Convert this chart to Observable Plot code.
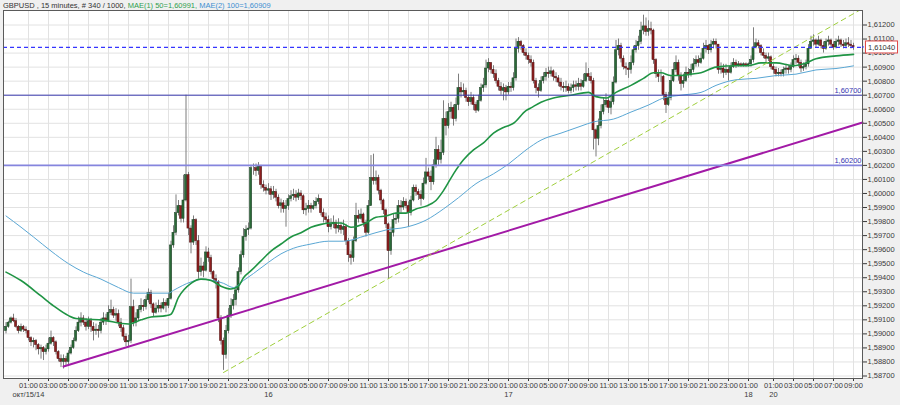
<!DOCTYPE html>
<html><head><meta charset="utf-8">
<script src="https://cdn.jsdelivr.net/npm/d3@7"></script>
<script src="https://cdn.jsdelivr.net/npm/@observablehq/plot@0.6"></script>
<style>
html,body{margin:0;padding:0;background:#f0f0f0;}
#chart svg{display:block;}
</style></head><body><div id="chart"></div>
<script>
// ---- DATA (prices in pips above 1.5800) ----
const basePrice = 1.58;
const firstOpenPips = 102;
const closePips = [
105,108,111,109,105,102,105,103,102,97,
94,95,92,89,90,87,89,93,97,94,
87,82,80,82,80,86,90,95,102,108,
111,108,105,109,105,102,103,102,108,111,
109,115,117,113,114,108,104,98,94,95,
119,108,111,117,120,119,124,129,121,115,
118,120,118,122,120,125,163,172,186,191,
182,195,213,175,165,181,166,144,148,145,
158,154,144,139,137,111,95,85,102,113,
120,124,131,144,156,169,174,175,218,218,
216,219,206,204,202,203,199,201,197,191,
193,189,191,196,198,199,197,200,198,188,
189,191,189,191,194,196,186,183,181,176,
178,179,175,177,174,176,166,156,154,166,
184,182,185,179,172,191,211,209,211,202,
195,188,178,159,172,181,182,191,190,194,
191,186,195,204,201,199,196,207,215,212,
208,220,231,224,229,253,248,258,261,253,
263,275,272,273,268,265,268,263,259,266,
275,277,289,293,288,285,280,276,273,275,
272,276,275,282,303,308,305,300,298,295,
293,280,275,273,280,283,286,285,287,283,
282,279,276,275,276,273,275,277,276,278,
276,280,285,283,280,245,239,248,258,263,
266,261,265,279,302,305,296,290,289,288,
293,302,305,308,316,319,315,317,316,295,
285,283,283,270,263,268,280,288,293,284,
278,280,286,285,288,292,295,293,296,303,
305,302,306,308,306,288,289,286,288,286,
290,293,291,292,291,292,291,292,295,304,
307,305,300,298,296,297,290,288,285,286,
285,288,289,288,290,295,296,293,289,290,
292,303,308,309,306,309,305,303,308,309,
306,304,308,309,306,305,307,306,305,304];
const highPips = [
108,109,112,114,111,106,107,106,105,102,
98,97,96,93,92,91,92,97,102,98,
95,88,85,85,84,88,92,97,105,112,
115,113,111,112,111,108,107,106,111,115,
114,120,124,119,118,117,111,106,100,99,
139,124,115,120,125,124,127,132,131,122,
122,124,122,125,124,129,166,177,199,195,
191,213,270,215,177,184,182,170,154,151,
162,161,156,145,142,138,113,97,106,118,
125,128,134,147,159,175,177,179,220,221,
221,222,220,209,206,207,205,205,203,199,
196,195,195,199,202,203,202,203,202,199,
193,195,193,195,197,199,196,189,186,184,
182,184,181,182,179,181,178,168,159,169,
193,188,189,186,181,195,227,228,216,213,
203,196,189,179,176,185,186,195,195,197,
196,194,198,206,206,203,202,211,225,218,
216,224,240,234,238,266,258,264,265,263,
268,285,279,278,275,270,272,270,265,270,
278,282,295,296,293,291,288,282,279,278,
277,279,279,286,310,311,309,306,303,300,
298,295,282,278,283,286,289,290,290,288,
286,284,282,279,280,278,278,280,280,282,
281,285,293,289,286,282,246,253,263,268,
271,268,269,283,309,310,307,298,293,293,
298,305,309,312,322,327,325,323,322,317,
296,288,288,284,272,272,284,293,298,295,
286,285,290,289,292,296,298,298,300,307,
309,306,309,310,310,306,293,292,292,290,
293,296,295,294,293,293,293,293,298,318,
310,309,306,303,300,300,298,292,290,289,
288,290,292,291,293,298,299,298,295,293,
295,306,312,313,310,312,310,308,310,312,
310,308,310,312,310,309,310,311,309,307];
const lowPips = [
100,104,107,108,104,100,101,101,100,95,
91,90,88,85,82,81,85,87,92,91,
85,80,76,75,77,78,85,89,94,101,
105,106,102,103,101,95,99,97,100,106,
106,108,113,111,109,105,101,95,91,90,
93,105,105,109,115,116,117,122,118,112,
114,115,115,117,115,118,124,161,170,184,
179,179,194,170,157,163,163,139,141,140,
144,151,142,137,132,108,92,74,82,100,
111,117,120,129,142,154,166,170,174,213,
212,213,203,201,199,199,195,196,194,189,
186,186,176,188,194,195,194,195,195,185,
184,186,186,188,189,192,184,179,178,172,
174,175,171,172,171,170,163,151,149,151,
165,179,181,176,169,171,191,206,206,199,
192,185,175,139,156,169,178,179,186,188,
189,176,184,194,198,195,191,195,206,209,
202,206,218,220,221,227,241,246,253,248,
251,259,268,269,265,262,263,259,257,258,
265,272,275,286,285,282,278,273,270,266,
266,270,272,273,280,300,302,298,295,292,
290,278,271,268,272,278,280,282,283,280,
279,276,273,272,272,271,271,272,273,273,
273,275,279,280,278,231,226,234,246,256,
261,257,256,263,278,298,293,288,284,282,
285,291,300,302,306,313,312,312,313,292,
282,279,279,266,257,262,266,279,286,280,
273,275,279,282,283,286,290,290,292,295,
300,299,300,303,303,285,285,282,284,280,
285,289,289,290,290,290,290,290,290,293,
303,303,298,296,293,294,288,285,283,283,
283,283,285,285,286,289,292,290,286,287,
288,290,303,305,304,305,303,300,302,305,
304,302,303,305,304,303,303,304,303,302];

// moving averages (bar index, pips)
const ma50Bars = [0,6,14,19,25,28,38,49,54,58,64,66,69,74,78,82,86,90,93,95,98,102,106,110,114,118,122,126,130,134,138,144,148,152,156,160,164,168,172,175,179,183,187,191,195,199,203,208,210,214,219,226,233,236,240,244,250,255,259,262,266,270,274,278,284,292,297,302,308,315,320,324,332,339];
const ma50Pips = [144,138,127,120,113,111,110,107,110,112,113,114,126,136,139,138,134,132,134,140,145,152,159,164,169,172,176,178,179,179,176,179,183,184,186,186,189,191,195,202,214,224,231,236,243,247,250,259,261,265,268,270,272,269,268,272,277,282,286,286,284,284,285,286,290,291,291,293,293,291,293,296,298,299.1];
const ma100Bars = [0,6,11,18,25,31,38,45,51,58,65,67,74,79,83,87,91,95,99,105,110,115,122,129,135,144,152,160,168,175,181,188,195,201,208,214,222,230,235,243,250,257,263,270,278,284,292,300,308,316,324,332,339];
const ma100Pips = [184,176,169,159,150,144,139,133,129,129,129,131,137,139,138,136,133,138,143,151,157,161,164,166,166,170,174,176,181,189,197,207,214,221,231,238,243,248,251,253,258,263,268,270,272,277,281,282,284,285,288,289,290.9];

// time axis
const hours12 = ["01:00","03:00","05:00","07:00","09:00","11:00","13:00","15:00","17:00","19:00","21:00","23:00"];
const timeTickLabels = [...hours12, ...hours12, ...hours12, "01:00", "01:00","03:00","05:00","07:00","09:00"];
const timeTickBars = [9,17,25,33,41,49,57,65,73,81,89,97,
  105,113,121,129,137,145,153,161,169,177,185,193,
  201,209,217,225,233,241,249,257,265,273,281,289,
  297, 307,315,323,331,339];
const dateLabels = ["окт/15/14","16","17","18","20"];
const dateBars = [9,105,201,297,307];

// levels & trend lines
const levelPrices = [1.607, 1.602];
const currentPrice = 1.6104;
const purpleTrend = [{i: 23, p: 1.58768}, {i: 342.6, p: 1.60505}];
const dashedTrend = [{i: 87, p: 1.58725}, {i: 342.6, p: 1.61317}];
const yTicks = d3.range(1587, 1613).map(v => v / 1000);

// ---- BUILD ----
const P = v => +(basePrice + v / 10000).toFixed(5);
const bars = closePips.map((c, i) => {
  const o = i ? closePips[i - 1] : firstOpenPips;
  return {i, open: P(o), close: P(c), high: P(Math.max(highPips[i], o, c)), low: P(Math.min(lowPips[i], o, c))};
});
const ma50 = ma50Bars.map((b, k) => ({i: b, p: P(ma50Pips[k])}));
const ma100 = ma100Bars.map((b, k) => ({i: b, p: P(ma100Pips[k])}));
const labelByBar = new Map(timeTickBars.map((b, k) => [b, timeTickLabels[k]]));
const fmt = d => d.toFixed(5).replace(".", ",");
const FONT = "'Liberation Sans', Arial, sans-serif";

const chart = Plot.plot({
  width: 900, height: 405,
  marginLeft: 3, marginRight: 38, marginTop: 10, marginBottom: 27,
  style: {fontFamily: FONT, fontSize: "7.5px", color: "#3a3a3a", background: "transparent", overflow: "visible"},
  x: {domain: [-1, 342.6], ticks: timeTickBars, tickFormat: i => labelByBar.get(i), tickSize: 3, tickPadding: 1, label: null},
  y: {domain: [1.586822, 1.613033], axis: "right", ticks: yTicks, tickFormat: fmt, tickSize: 4, tickPadding: 1, label: null},
  marks: [
    Plot.frame({fill: "white", stroke: "none"}),
    Plot.ruleY(yTicks, {stroke: "#e2e2e2"}),
    Plot.ruleX(timeTickBars, {stroke: "#e2e2e2"}),
    Plot.ruleX(bars, {x: "i", y1: "low", y2: "high", stroke: "#7d7d7d", strokeWidth: 1}),
    Plot.rect(bars, {x1: d => d.i - 0.42, x2: d => d.i + 0.42, y1: "open", y2: "close",
      fill: d => d.close >= d.open ? "#2b6b38" : "#8e1f1f",
      stroke: d => d.close >= d.open ? "#173d20" : "#4d1010", strokeWidth: 0.5}),
    Plot.line(ma100, {x: "i", y: "p", stroke: "#5aa7d4", strokeWidth: 1, curve: "monotone-x"}),
    Plot.line(ma50, {x: "i", y: "p", stroke: "#1f9444", strokeWidth: 1.6, curve: "monotone-x"}),
    Plot.line(purpleTrend, {x: "i", y: "p", stroke: "#a21aa6", strokeWidth: 2}),
    Plot.line(dashedTrend, {x: "i", y: "p", stroke: "#9fcf3c", strokeWidth: 1, strokeDasharray: "5,4", clip: true}),
    Plot.ruleY([levelPrices[0]], {stroke: "#3b3bb0", strokeWidth: 1}),
    Plot.ruleY([levelPrices[1]], {stroke: "#8585de", strokeWidth: 1.8}),
    Plot.text(levelPrices, {y: d => d, text: fmt, frameAnchor: "right", textAnchor: "end", dx: -1, dy: -5, fill: "#3535b0", fontSize: 7.5}),
    Plot.ruleY([currentPrice], {stroke: "#3535ff", strokeWidth: 1.2, strokeDasharray: "4,3"}),
    Plot.text(dateBars, {x: d => d, text: (d, k) => dateLabels[k], frameAnchor: "bottom", dy: 18, fill: "#3a3a3a", fontSize: 7.5}),
    Plot.frame({stroke: "#5a5a5a"})
  ]
});
document.getElementById("chart").appendChild(chart);

// current price box and title
const svg = d3.select(chart);
const yScale = chart.scale("y");
const yc = yScale.apply(currentPrice);
svg.append("line").attr("x1", 862).attr("x2", 865).attr("y1", yc).attr("y2", yc)
  .attr("stroke", "#3535ff").attr("stroke-dasharray", "2,1");
svg.append("rect").attr("x", 865.5).attr("y", yc - 6).attr("width", 32).attr("height", 12)
  .attr("fill", "white").attr("stroke", "#e04a4a");
svg.append("text").attr("x", 868).attr("y", yc + 3).attr("font-size", 7.5).attr("text-anchor", "start")
  .attr("font-family", FONT).attr("fill", "#333").text(fmt(currentPrice));
const title = svg.append("text").attr("x", 3).attr("y", 7.5).attr("font-size", 7.5).attr("text-anchor", "start")
  .attr("font-family", FONT);
title.append("tspan").attr("fill", "#333").text("GBPUSD , 15 minutes, # 340 / 1000, ");
title.append("tspan").attr("fill", "#2f9e4f").text("MAE(1) 50=" + fmt(P(ma50Pips[ma50Pips.length - 1])));
title.append("tspan").attr("fill", "#2f9e4f").text(", ");
title.append("tspan").attr("fill", "#3d8fd0").text("MAE(2) 100=" + fmt(P(ma100Pips[ma100Pips.length - 1])));
</script></body></html>
